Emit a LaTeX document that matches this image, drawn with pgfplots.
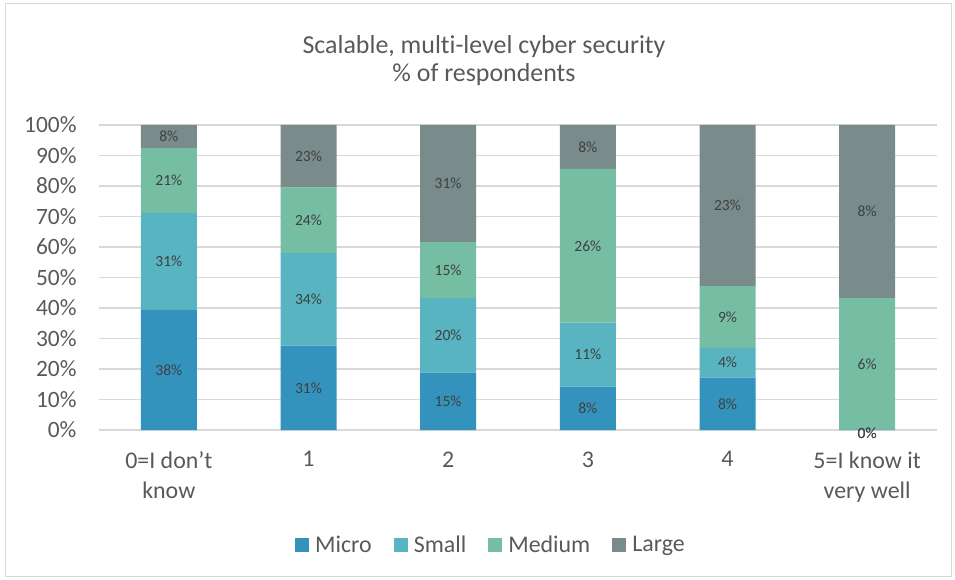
\documentclass[border=0pt]{standalone}
\usepackage{fontspec}
\setmainfont{Carlito}[Ligatures=NoCommon]
\usepackage{pgfplots}
\pgfplotsset{compat=1.18}
\usepackage{pgfplotstable}

\definecolor{cMicro}{HTML}{3493BC}
\definecolor{cSmall}{HTML}{57B4C0}
\definecolor{cMedium}{HTML}{75BEA4}
\definecolor{cLarge}{HTML}{798B8B}
\definecolor{txt}{HTML}{595959}
\definecolor{lbl}{HTML}{404040}
\definecolor{gridc}{HTML}{D9D9D9}

% h = share of bar (100% stacked), l = printed label
\pgfplotstableread{
x h l
0 39.4 38
1 27.68 31
2 18.8 15
3 14.2 8
4 17.2 8
5 0.01 0
}\tMicro
\pgfplotstableread{
x h l
0 31.8 31
1 30.36 34
2 24.4 20
3 21.0 11
4 9.7 4
5 0.01 0
}\tSmall
\pgfplotstableread{
x h l
0 21.2 21
1 21.43 24
2 18.4 15
3 50.4 26
4 20.3 9
5 43.2 6
}\tMedium
\pgfplotstableread{
x h l
0 7.6 8
1 20.54 23
2 38.4 31
3 14.4 8
4 52.8 23
5 56.78 8
}\tLarge

\begin{document}
\begin{tikzpicture}
\useasboundingbox (0,0) rectangle (955bp,580bp);
\draw[gridc, line width=1bp] (5bp,3bp) rectangle (951bp,576bp);
\node[txt, font=\fontsize{26}{31}\selectfont, anchor=base] at (484bp,526bp) {Scalable, multi-level cyber security};
\node[txt, font=\fontsize{26}{31}\selectfont, anchor=base] at (484bp,498bp) {\% of respondents};
\begin{axis}[
  at={(99bp,150bp)}, anchor=south west,
  scale only axis, width=838bp, height=305bp,
  ybar stacked, bar width=56bp,
  xmin=-0.5, xmax=5.5, ymin=0, ymax=100,
  axis lines*=left,
  x axis line style={gridc, line width=1.5bp, -},
  y axis line style={draw=none},
  xtick={0,...,5},
  xticklabels={{0=I don’t\\know},1,2,3,4,{5=I know it\\very well}},
  xticklabel style={align=center, font=\fontsize{24}{30}\selectfont, text=txt, yshift=-18bp},
  ytick={0,10,...,100},
  yticklabels={0\%,10\%,20\%,30\%,40\%,50\%,60\%,70\%,80\%,90\%,100\%},
  yticklabel style={font=\fontsize{23.5}{28}\selectfont, text=txt, xshift=-19bp},
  major tick length=0pt,
  ymajorgrids, grid style={gridc, line width=1.5bp},
  clip=false,
  point meta=explicit symbolic,
  nodes near coords={\pgfplotspointmeta\%},
  visualization depends on={\thisrow{h} \as \rawh},
  every node near coord/.append style={font=\fontsize{15.6}{18}\selectfont, text=lbl, anchor=center,
     yshift={ifthenelse(\rawh<0.1,-3,0)*1bp}},
  legend columns=4,
  legend style={at={(0.4666,-0.377)}, anchor=center, draw=none, fill=none,
     font=\fontsize{24}{28}\selectfont, text=txt, nodes={inner sep=0pt},
     /tikz/every odd column/.append style={column sep=6bp},
     /tikz/every even column/.append style={column sep=22bp}},
  legend image code/.code={\fill[#1] (0bp,-7bp) rectangle (14bp,7bp);},
]
\addplot[fill=cMicro, draw=none] table[x=x, y=h, meta=l] {\tMicro};
\addplot[fill=cSmall, draw=none] table[x=x, y=h, meta=l] {\tSmall};
\addplot[fill=cMedium, draw=none] table[x=x, y=h, meta=l] {\tMedium};
\addplot[fill=cLarge, draw=none] table[x=x, y=h, meta=l] {\tLarge};
\legend{Micro,Small,Medium,Large}
\end{axis}
\end{tikzpicture}
\end{document}
